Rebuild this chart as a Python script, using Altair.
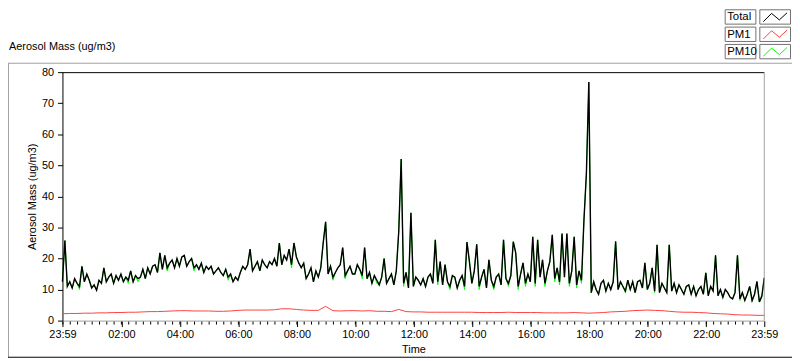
import altair as alt
import pandas as pd

START = "2023-01-01 23:59"

# Total aerosol mass, one value every 5 minutes from 23:59
TOTAL = [
    12.5, 25.8, 11, 12.5, 10.5, 13.5, 12, 11, 17.5, 12.5, 15, 13,
    10.5, 11.5, 9.8, 13, 12, 17, 12.5, 14, 15, 12, 14.5, 13,
    15, 12.5, 14, 13, 16, 12.5, 14.5, 13.5, 14, 16.5, 13.5, 17,
    15, 17.5, 18, 15.5, 21.8, 16.5, 21, 17, 18.5, 19.5, 17, 20,
    17.5, 20.5, 21, 17.5, 19, 20, 17, 18, 16.5, 18.5, 15.5, 17.5,
    16.5, 17.5, 15, 16, 17, 15.5, 14.5, 16.5, 14, 15, 12.5, 14,
    13, 15.5, 17.5, 16.5, 18, 23, 16, 17.5, 19, 16, 19.5, 18,
    17, 19, 18, 20, 17.5, 25, 18, 21, 19.5, 23, 18, 25,
    20.5, 18.5, 17, 18.5, 13.5, 15, 17, 12.5, 16, 14, 17, 25,
    31.8, 15, 17.5, 14, 15.5, 17, 18, 23.5, 14.5, 16, 17.5, 15,
    15, 18, 16.5, 14.5, 23.5, 13.5, 15.5, 12, 14.5, 13, 11.5, 14,
    20, 12, 13.5, 15, 11.5, 16, 28.7, 52, 12, 15.5, 10.5, 34.7,
    11, 14, 13, 11.5, 13.5, 11, 14, 15, 12, 26, 12.5, 19,
    11.5, 18, 12.5, 11, 14.5, 14, 10.5, 13, 14.5, 11, 25.3, 19,
    12, 16, 24.6, 11, 14, 16.5, 10.5, 19.6, 13, 11, 14, 15,
    11.5, 26, 13.5, 12, 14.5, 25.4, 21.8, 11, 15, 18.6, 12, 15,
    12.5, 27, 12, 26, 14, 19.6, 12, 16, 19, 27.6, 13.5, 17,
    12.5, 28, 14, 28, 12, 16, 27, 11.5, 16, 13, 32.4, 47.3,
    76.8, 9, 12.5, 10, 8.5, 12, 13, 9.5, 12, 10, 12.5, 25.5,
    10, 12.5, 11, 9.5, 13, 10, 12.5, 9, 12.5, 13, 10.5, 18.6,
    10, 12, 17, 9.5, 24.4, 9, 12, 10.5, 9, 24.4, 9.5, 12,
    9, 11.5, 10, 8.5, 11, 11.5, 8.5, 11, 8, 10, 11, 8.5,
    15.4, 8, 11, 9.5, 21, 8, 10, 7.5, 10, 9, 7.5, 7,
    9, 21, 7, 9, 6.5, 8.5, 11, 6.5, 8.5, 12.6, 6, 8,
    13.8,
]

# PM10, one value every 5 minutes from 23:59
PM10 = [
    12.5, 25.8, 11, 12.5, 10.5, 13.5, 12, 10, 17.5, 12.5, 15, 13,
    10.5, 11.5, 9.8, 13, 12, 17, 12.5, 14, 15, 12, 14.5, 13,
    15, 12.5, 14, 12, 16, 12.5, 14.5, 12.5, 14, 16.5, 13.5, 17,
    15, 17.5, 18, 15.5, 21.8, 16.5, 21, 16, 18.5, 19.5, 17, 20,
    17.5, 20.5, 21, 17.5, 19, 20, 16, 18, 16.5, 18.5, 15.5, 17.5,
    16.5, 17.5, 15, 16, 17, 15.5, 14.5, 16.5, 13, 15, 12.5, 14,
    13, 15.5, 17.5, 16.5, 18, 23, 16, 17.5, 19, 16, 19.5, 18,
    17, 19, 18, 20, 17.5, 25, 18, 21, 19.5, 23, 17, 25,
    20.5, 18.5, 17, 18.5, 13.5, 15, 17, 12.5, 16, 14, 17, 25,
    31.8, 15, 17.5, 13, 15.5, 17, 18, 23.5, 13.5, 16, 17.5, 15,
    15, 18, 16.5, 13.5, 23.5, 13.5, 15.5, 12, 14.5, 12, 11.5, 14,
    20, 12, 13.5, 15, 11.5, 16, 28.7, 52, 11, 15.5, 10.5, 34.7,
    11, 14, 13, 11.5, 13.5, 11, 14, 15, 12, 26, 11.5, 19,
    11.5, 18, 12.5, 10, 14.5, 14, 10.5, 13, 14.5, 10, 25.3, 19,
    12, 16, 24.6, 10, 14, 16.5, 10.5, 19.6, 13, 10, 14, 15,
    11.5, 26, 13.5, 11, 14.5, 25.4, 21.8, 10, 15, 18.6, 11, 15,
    12.5, 27, 11, 26, 14, 19.6, 11, 16, 19, 27.6, 12.5, 17,
    11.5, 28, 14, 28, 11, 16, 27, 10.5, 16, 12, 32.4, 47.3,
    76.8, 9, 12.5, 10, 8.5, 12, 13, 9.5, 12, 10, 12.5, 25.5,
    10, 12.5, 11, 9, 13, 10, 12.5, 9, 12.5, 13, 10.5, 18.6,
    10, 12, 17, 9, 24.4, 9, 12, 10.5, 9, 24.4, 9.5, 12,
    9, 11.5, 10, 8.5, 11, 11.5, 8.5, 11, 8, 10, 11, 8.5,
    15.4, 8, 11, 9.5, 21, 8, 10, 7.5, 10, 9, 7.5, 7,
    9, 21, 6.5, 9, 6.5, 8.5, 11, 6, 8.5, 12.6, 6, 7.5,
    13.8,
]

# PM1, one value every 15 minutes from 23:59
PM1 = [
    2.2, 2.3, 2.3, 2.4,
    2.4, 2.5, 2.5, 2.6,
    2.6, 2.7, 2.7, 2.8,
    2.9, 2.9, 3.0, 3.1,
    3.2, 3.2, 3.1, 3.1,
    3.1, 3.0, 3.0, 3.1,
    3.3, 3.4, 3.4, 3.4,
    3.4, 3.5, 3.8, 3.8,
    3.6, 3.4, 3.3, 3.3,
    4.6, 3.2, 3.1, 3.2,
    3.2, 3.1, 3.2, 3.0,
    3.0, 2.9, 3.6, 2.9,
    2.8, 2.8, 2.7, 2.7,
    2.7, 2.7, 2.7, 2.7,
    2.7, 2.6, 2.6, 2.6,
    2.6, 2.7, 2.6, 2.6,
    2.6, 2.6, 2.5, 2.5,
    2.5, 2.5, 2.6, 2.5,
    2.4, 2.5, 2.6, 2.8,
    2.9, 3.0, 3.2, 3.3,
    3.4, 3.3, 3.2, 3.0,
    2.8, 2.7, 2.7, 2.6,
    2.5, 2.3, 2.2, 2.1,
    1.9, 1.8, 1.8, 1.7,
    1.7,
]

SERIES = ["Total", "PM1", "PM10"]
COLORS = ["#000000", "#ff4040", "#00ff00"]
Y_TICKS = [0, 10, 20, 30, 40, 50, 60, 70, 80]
MAJOR_HOURS = [2, 4, 6, 8, 10, 12, 14, 16, 18, 20, 22]

FONT = "Liberation Sans"
W, H = 709, 251

t_total = pd.date_range(START, periods=len(TOTAL), freq="5min")
t_pm10 = pd.date_range(START, periods=len(PM10), freq="5min")
t_pm1 = pd.date_range(START, periods=len(PM1), freq="15min")

df = pd.concat([
    pd.DataFrame({"time": t_total, "value": TOTAL, "series": "Total"}),
    pd.DataFrame({"time": t_pm10, "value": PM10, "series": "PM10"}),
    pd.DataFrame({"time": t_pm1, "value": PM1, "series": "PM1"}),
], ignore_index=True)

minor_df = pd.DataFrame({"time": pd.date_range("2023-01-02 00:00", "2023-01-02 23:45", freq="15min")})

t0 = alt.DateTime(year=2023, month=1, date=1, hours=23, minutes=59)
t1 = alt.DateTime(year=2023, month=1, date=2, hours=23, minutes=59)
major = [t0] + [alt.DateTime(year=2023, month=1, date=2, hours=h, minutes=0) for h in MAJOR_HOURS] + [t1]

x_enc = alt.X(
    "time:T",
    scale=alt.Scale(domain=[t0, t1], nice=False),
    axis=alt.Axis(
        values=major, format="%H:%M", title="Time", grid=False,
        labelFont=FONT, labelFontSize=11, labelColor="black",
        titleFont=FONT, titleFontSize=11, titleFontWeight="normal", titleColor="black",
        tickSize=6, tickColor="black", domainColor="#a0a0a0",
        labelOverlap=False, labelFlush=False, labelPadding=2, titlePadding=4,
    ),
)
y_enc = alt.Y(
    "value:Q",
    scale=alt.Scale(domain=[0, 80], nice=False),
    axis=alt.Axis(
        values=Y_TICKS, title="Aerosol Mass (ug/m3)", grid=False,
        labelFont=FONT, labelFontSize=11, labelColor="black",
        titleFont=FONT, titleFontSize=11, titleFontWeight="normal", titleColor="black",
        tickSize=5, tickColor="black", domainColor="black",
        labelPadding=4, titlePadding=4,
    ),
)

base = alt.Chart(df)
layers = []
for name, sw in [("PM10", 1.0), ("PM1", 1), ("Total", 1.4)]:
    col = COLORS[SERIES.index(name)]
    layers.append(
        base.transform_filter(alt.datum.series == name)
        .mark_line(color=col, strokeWidth=sw)
        .encode(x=x_enc, y=y_enc)
    )

# minor ticks every 15 minutes
layers.append(
    alt.Chart(minor_df).mark_rule(color="black", strokeWidth=1)
    .encode(x=x_enc, y=alt.value(H + 1), y2=alt.value(H + 4))
)

one = alt.Chart(pd.DataFrame({"k": [0]}))

# plot frame: top black, right gray
layers.append(one.mark_rule(color="black").encode(x=alt.value(0), x2=alt.value(W), y=alt.value(0.5)))
layers.append(one.mark_rule(color="#a0a0a0").encode(x=alt.value(W), y=alt.value(0), y2=alt.value(H)))

# outer panel frame
layers.append(one.mark_rule(color="#a0a0a0").encode(x=alt.value(-55), x2=alt.value(737), y=alt.value(-9)))
layers.append(one.mark_rule(color="#a0a0a0").encode(x=alt.value(-54.5), y=alt.value(-9), y2=alt.value(288)))
layers.append(one.mark_rule(color="black").encode(x=alt.value(-55), x2=alt.value(737), y=alt.value(288)))

# chart caption
layers.append(
    one.mark_text(text="Aerosol Mass (ug/m3)", align="left", baseline="middle",
                  font=FONT, fontSize=11, color="black")
    .encode(x=alt.value(-54), y=alt.value(-25))
)

# legend
ZIGZAG = "M-1,0.4L-0.3,-0.3L0.35,0.25L1,-0.35"
for i, name in enumerate(SERIES):
    top = -63 + i * 17.5
    layers.append(
        one.mark_rect(fill="white", stroke="#707070", strokeWidth=1)
        .encode(x=alt.value(669.5), x2=alt.value(700.5), y=alt.value(top), y2=alt.value(top + 14.5))
    )
    layers.append(
        one.mark_text(text=name, align="left", baseline="middle", font=FONT, fontSize=11.5, color="black")
        .encode(x=alt.value(671.5), y=alt.value(top + 7.5))
    )
    layers.append(
        one.mark_rect(fill="white", stroke="#707070", strokeWidth=1)
        .encode(x=alt.value(704.5), x2=alt.value(735.5), y=alt.value(top), y2=alt.value(top + 14.5))
    )
    layers.append(
        one.mark_point(shape=ZIGZAG, size=576, filled=False, color=COLORS[i], strokeWidth=1, opacity=1)
        .encode(x=alt.value(720), y=alt.value(top + 7.25))
    )

chart = (
    alt.layer(*layers)
    .properties(
        width=W, height=H,
        autosize=alt.AutoSizeParams(type="none"),
        padding={"left": 55, "top": 63, "right": 28, "bottom": 39},
        background="white",
    )
    .configure_view(stroke=None)
)

chart.save("out.html", embed_options={"renderer": "svg", "actions": False})
